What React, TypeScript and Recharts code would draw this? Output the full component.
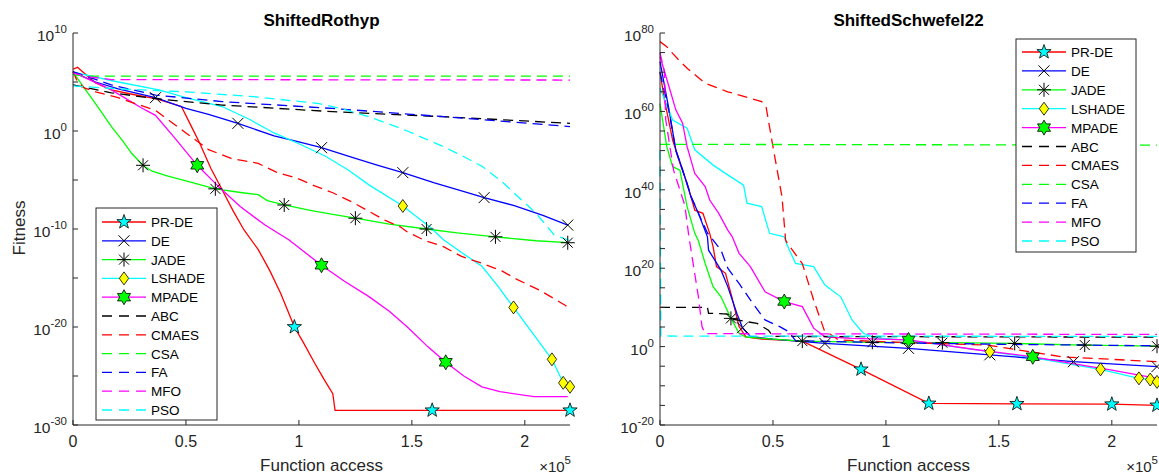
import React from "react";
import { LineChart, Line, XAxis, YAxis } from "recharts";

// points are [function access (x1e5), log10(fitness)]
type Pt = [number, number];

const algNames = ["PR-DE", "DE", "JADE", "LSHADE", "MPADE", "ABC", "CMAES", "CSA", "FA", "MFO", "PSO"];

// ---------- ShiftedRothyp ----------
const rothypPRDE: Pt[] = [[0, 6.3], [0.02, 6.5], [0.04, 6.1], [0.1, 4.9], [0.17, 4.2], [0.25, 3.8], [0.365, 3.3], [0.48, 2.5], [0.52, 0.65], [0.56, -1.2], [0.61, -3.8], [0.66, -6.0], [0.71, -8.2], [0.757, -10.1], [0.82, -12.1], [0.87, -14.2], [0.92, -16.6], [0.98, -20.0], [1.02, -21.6], [1.07, -23.7], [1.11, -25.3], [1.15, -26.8], [1.16, -28.5], [1.59, -28.5], [2.2, -28.5]];
const rothypDE: Pt[] = [[0, 6.0], [0.1, 5.0], [0.2, 4.3], [0.365, 3.4], [0.5, 2.3], [0.6, 1.7], [0.73, 0.78], [0.89, -0.5], [1.0, -1.1], [1.1, -1.7], [1.25, -2.8], [1.35, -3.5], [1.46, -4.25], [1.6, -5.3], [1.72, -6.1], [1.82, -6.8], [1.95, -7.6], [2.08, -8.6], [2.19, -9.6]];
const rothypJADE: Pt[] = [[0, 6.0], [0.04, 4.7], [0.087, 3.2], [0.13, 1.8], [0.17, 0.44], [0.22, -1.0], [0.26, -2.3], [0.31, -3.5], [0.35, -4.1], [0.42, -4.6], [0.5, -5.1], [0.63, -5.9], [0.75, -6.3], [0.82, -6.5], [0.86, -7.1], [0.935, -7.55], [1.05, -8.1], [1.15, -8.5], [1.25, -8.9], [1.4, -9.5], [1.565, -10.0], [1.7, -10.4], [1.87, -10.8], [2.05, -11.2], [2.19, -11.4]];
const rothypLSHADE: Pt[] = [[0, 6.0], [0.2, 5.0], [0.38, 4.2], [0.5, 3.4], [0.66, 2.5], [0.78, 1.2], [0.89, -0.2], [1.0, -1.3], [1.12, -2.6], [1.22, -4.0], [1.31, -5.5], [1.46, -7.65], [1.58, -9.8], [1.64, -11.1], [1.72, -12.4], [1.81, -13.8], [1.88, -15.8], [1.95, -18.0], [2.04, -20.8], [2.12, -23.3], [2.17, -25.7], [2.2, -26.1]];
const rothypMPADE: Pt[] = [[0, 6.0], [0.17, 4.2], [0.3, 2.4], [0.365, 1.6], [0.45, -0.7], [0.55, -3.5], [0.65, -5.8], [0.74, -7.7], [0.85, -9.6], [0.955, -11.1], [1.1, -13.7], [1.2, -15.3], [1.31, -16.9], [1.4, -18.4], [1.48, -20.0], [1.57, -22.0], [1.65, -23.6], [1.73, -25.0], [1.81, -26.1], [1.89, -26.6], [2.04, -27.1], [2.19, -27.1]];
const rothypABC: Pt[] = [[0, 4.7], [0.17, 3.9], [0.365, 3.3], [0.66, 2.65], [1.15, 1.97], [1.64, 1.46], [2.2, 0.78]];
const rothypCMAES: Pt[] = [[0, 6.1], [0.02, 5.0], [0.05, 4.4], [0.1, 4.0], [0.2, 3.4], [0.365, 2.1], [0.43, 1.0], [0.5, -0.2], [0.6, -1.9], [0.7, -2.8], [0.82, -3.3], [0.9, -4.2], [0.99, -4.8], [1.07, -5.6], [1.15, -6.3], [1.24, -7.3], [1.31, -8.2], [1.38, -9.1], [1.45, -9.8], [1.48, -10.3], [1.56, -11.2], [1.64, -11.8], [1.72, -12.8], [1.81, -13.5], [1.9, -14.3], [1.97, -15.2], [2.07, -16.3], [2.18, -17.8], [2.2, -18.2]];
const rothypCSA: Pt[] = [[0, 5.75], [0.05, 5.6], [2.2, 5.6]];
const rothypFA: Pt[] = [[0, 6.05], [0.17, 4.7], [0.365, 3.67], [0.66, 3.0], [1.15, 2.3], [1.64, 1.46], [2.2, 0.45]];
const rothypMFO: Pt[] = [[0, 5.9], [0.08, 5.5], [0.17, 5.25], [2.2, 5.2]];
const rothypPSO: Pt[] = [[0, 4.6], [0.2, 4.3], [0.5, 4.0], [0.8, 3.5], [1.09, 2.8], [1.2, 2.2], [1.31, 1.46], [1.4, 0.7], [1.48, 0.0], [1.56, -0.8], [1.64, -1.6], [1.72, -2.5], [1.81, -3.6], [1.9, -5.2], [1.97, -6.7], [2.05, -8.4], [2.13, -10.6], [2.2, -11.2]];

const rothypMarks: Record<string, number[]> = {
  "PR-DE": [0.98, 1.59, 2.2],
  DE: [0.365, 0.73, 1.1, 1.46, 1.82, 2.19],
  JADE: [0.31, 0.63, 0.935, 1.25, 1.565, 1.87, 2.19],
  LSHADE: [1.46, 1.95, 2.12, 2.17, 2.2],
  MPADE: [0.55, 1.1, 1.65],
};

// ---------- ShiftedSchwefel22 ----------
const schwPRDE: Pt[] = [[0, 70], [0.02, 62.9], [0.056, 52.7], [0.088, 46.8], [0.12, 41.7], [0.154, 34.8], [0.19, 34.0], [0.22, 28.9], [0.235, 25.5], [0.25, 20.4], [0.29, 18.7], [0.318, 12.7], [0.35, 5.1], [0.38, 2.5], [0.45, 1.9], [0.63, 1.4], [0.89, -5.8], [1.19, -14.5], [1.58, -14.6], [2.0, -14.7], [2.2, -15.0]];
const schwDE: Pt[] = [[0, 72.7], [0.04, 60.4], [0.07, 50.2], [0.1, 45.1], [0.137, 38.2], [0.17, 34.0], [0.21, 28.0], [0.215, 24.6], [0.27, 19.5], [0.3, 15.3], [0.34, 8.5], [0.365, 4.8], [0.4, 2.6], [0.5, 1.9], [0.73, 0.8], [1.1, -0.45], [1.46, -2.1], [1.83, -3.85], [2.2, -5.1]];
const schwJADE: Pt[] = [[0, 62], [0.03, 51], [0.056, 45.9], [0.088, 45], [0.12, 35.7], [0.154, 28.9], [0.17, 27], [0.2, 21.2], [0.235, 15.3], [0.27, 12.7], [0.314, 7.2], [0.35, 3.4], [0.38, 2.4], [0.63, 1.4], [0.94, 1.1], [1.25, 1.0], [1.57, 0.8], [1.88, 0.4], [2.2, 0.1]];
const schwLSHADE: Pt[] = [[0, 66], [0.02, 63], [0.056, 57.8], [0.12, 55.7], [0.154, 50.2], [0.235, 46.3], [0.3, 43.8], [0.37, 41.2], [0.385, 36.6], [0.45, 35.7], [0.485, 28.9], [0.55, 28], [0.56, 26.3], [0.6, 21.2], [0.68, 20.4], [0.73, 15.7], [0.8, 12.7], [0.85, 6.8], [0.9, 3.4], [0.95, 2.3], [1.1, 1.6], [1.46, -1.3], [1.65, -2.8], [1.95, -5.8], [2.12, -8.1], [2.17, -8.4], [2.2, -9.0]];
const schwMPADE: Pt[] = [[0, 74], [0.04, 66.3], [0.07, 60.4], [0.1, 57], [0.12, 51], [0.154, 44.2], [0.2, 40.8], [0.22, 37.4], [0.26, 34], [0.3, 29.7], [0.32, 28], [0.35, 23.8], [0.4, 20.4], [0.465, 14], [0.55, 11.5], [0.63, 10.2], [0.68, 4.7], [0.73, 2.5], [0.85, 2.1], [1.1, 1.7], [1.4, -0.8], [1.65, -2.6], [2.0, -6.0], [2.2, -8.1]];
const schwABC: Pt[] = [[0, 10], [0.21, 10], [0.215, 8.5], [0.3, 8.3], [0.32, 7.0], [0.43, 5.9], [0.48, 4.2], [0.5, 2.6], [2.2, 2.4]];
const schwCMAES: Pt[] = [[0, 77.8], [0.03, 76.5], [0.056, 74.8], [0.08, 73.3], [0.12, 71], [0.2, 67.2], [0.3, 65], [0.45, 62.5], [0.47, 61], [0.5, 51], [0.54, 38.2], [0.556, 27.2], [0.564, 26.3], [0.63, 21.2], [0.68, 11.9], [0.727, 4.2], [0.79, 1.7], [1.1, 1.0], [1.45, 0.4], [1.78, -2.6], [2.2, -3.85]];
const schwCSA: Pt[] = [[0, 51.6], [2.2, 51.4]];
const schwFA: Pt[] = [[0, 70], [0.04, 60], [0.07, 50], [0.1, 45], [0.14, 38], [0.17, 34], [0.21, 29], [0.27, 24.6], [0.3, 20], [0.35, 16.1], [0.4, 11.9], [0.465, 6.8], [0.53, 5.1], [0.57, 3.8], [0.6, 1.5], [1.0, 1.0], [1.5, 0.6], [2.2, 0.2]];
const schwMFO: Pt[] = [[0, 75], [0.02, 70], [0.025, 58], [0.06, 45], [0.11, 36], [0.128, 28], [0.15, 20], [0.17, 12.7], [0.186, 5.1], [0.2, 3.3], [2.2, 3.1]];
const schwPSO: Pt[] = [[0, 50], [0.004, 2.7], [2.2, 2.6]];

const schwMarks: Record<string, number[]> = {
  "PR-DE": [0.89, 1.19, 1.58, 2.0, 2.2],
  DE: [0.365, 0.73, 1.1, 1.46, 1.83, 2.2],
  JADE: [0.314, 0.63, 0.94, 1.25, 1.57, 1.88, 2.2],
  LSHADE: [1.46, 1.95, 2.12, 2.17, 2.2],
  MPADE: [0.55, 1.1, 1.65],
};

// ---------- ticks ----------
const bottomXTicks = [0, 0.5, 1, 1.5, 2];
const topXTicks = [0, 0.22, 0.44, 0.66, 0.88, 1.1, 1.32, 1.54, 1.76, 1.98, 2.2];
const rothypYTicks = [1e-30, 1e-25, 1e-20, 1e-15, 1e-10, 1e-5, 1, 1e5, 1e10];
const schwYTicks = [1e-20, 1e-15, 1e-10, 1e-5, 1, 1e5, 1e10, 1e15, 1e20, 1e25, 1e30, 1e35, 1e40, 1e45, 1e50, 1e55, 1e60, 1e65, 1e70, 1e75, 1e80];

type MarkerKind = "pentagram" | "x" | "asterisk" | "diamond" | "hexagram";
const DASH = "10 6";
const algStyle: Record<string, { color: string; dash?: string; marker?: MarkerKind }> = {
  "PR-DE": { color: "#ff0000", marker: "pentagram" },
  DE: { color: "#0000ff", marker: "x" },
  JADE: { color: "#00ff00", marker: "asterisk" },
  LSHADE: { color: "#00ffff", marker: "diamond" },
  MPADE: { color: "#ff00ff", marker: "hexagram" },
  ABC: { color: "#000000", dash: DASH },
  CMAES: { color: "#ff0000", dash: DASH },
  CSA: { color: "#00ff00", dash: DASH },
  FA: { color: "#0000ff", dash: DASH },
  MFO: { color: "#ff00ff", dash: DASH },
  PSO: { color: "#00ffff", dash: DASH },
};

const W = 1159;
const H = 475;
const PLOT_TOP = 33;
const PLOT_BOTTOM = 425;
const AXIS = "#262626";
const FONT = "Arial, 'Liberation Sans', Helvetica, sans-serif";
const TICK = 5;

function starPath(cx: number, cy: number, n: number, ro: number, ri: number) {
  let d = "";
  for (let i = 0; i < 2 * n; i++) {
    const r = i % 2 === 0 ? ro : ri;
    const a = -Math.PI / 2 + (i * Math.PI) / n;
    d += (i ? "L" : "M") + (cx + r * Math.cos(a)).toFixed(2) + "," + (cy + r * Math.sin(a)).toFixed(2);
  }
  return d + "Z";
}

function Marker({ kind, cx, cy }: { kind: MarkerKind; cx: number; cy: number }) {
  if (kind === "pentagram")
    return <path d={starPath(cx, cy, 5, 7.5, 3)} fill="#00ffff" stroke="#000" strokeWidth={0.8} />;
  if (kind === "hexagram")
    return <path d={starPath(cx, cy, 6, 7.5, 4.3)} fill="#00ff00" stroke="#000" strokeWidth={0.8} />;
  if (kind === "diamond")
    return <path d={`M${cx},${cy - 6.5}L${cx + 4.7},${cy}L${cx},${cy + 6.5}L${cx - 4.7},${cy}Z`} fill="#ffff00" stroke="#000" strokeWidth={0.8} />;
  if (kind === "x")
    return <path d={`M${cx - 5.5},${cy - 5.5}L${cx + 5.5},${cy + 5.5}M${cx - 5.5},${cy + 5.5}L${cx + 5.5},${cy - 5.5}`} stroke="#000" strokeWidth={1} />;
  return (
    <path
      d={`M${cx - 7},${cy}L${cx + 7},${cy}M${cx},${cy - 7}L${cx},${cy + 7}M${cx - 5},${cy - 5}L${cx + 5},${cy + 5}M${cx - 5},${cy + 5}L${cx + 5},${cy - 5}`}
      stroke="#000"
      strokeWidth={1}
    />
  );
}

function LeftTick(props: any) {
  const { x, y, payload, step } = props;
  const exp = Math.round(Math.log10(payload.value));
  return (
    <g>
      <line x1={x} x2={x + TICK} y1={y} y2={y} stroke={AXIS} />
      {exp % step === 0 && (
        <text x={x - 6} y={y + 8} textAnchor="end" fontFamily={FONT} fontSize={15.5} fill="#262626">
          10<tspan dy={-8} fontSize={11.5}>{exp}</tspan>
        </text>
      )}
    </g>
  );
}
function RightTick(props: any) {
  const { x, y } = props;
  return <line x1={x} x2={x - TICK} y1={y} y2={y} stroke={AXIS} />;
}
function BottomTick(props: any) {
  const { x, y, payload } = props;
  return (
    <g>
      <line x1={x} x2={x} y1={y} y2={y - TICK} stroke={AXIS} />
      <text x={x} y={y + 22} textAnchor="middle" fontFamily={FONT} fontSize={16} fill="#262626">
        {String(payload.value)}
      </text>
    </g>
  );
}
function TopTick(props: any) {
  const { x, y } = props;
  return <line x1={x} x2={x} y1={y} y2={y + TICK} stroke={AXIS} />;
}

type PanelProps = {
  left: number;
  width: number;
  plotLeft: number;
  plotRight: number;
  curves: Pt[][];
  marks: Record<string, number[]>;
  yDomain: [number, number];
  yTicks: number[];
  labelStep: number;
};

function Panel({ left, width, plotLeft, plotRight, curves, marks, yDomain, yTicks, labelStep }: PanelProps) {
  return (
    <div style={{ position: "absolute", left, top: 0 }}>
      <LineChart
        width={width}
        height={H}
        margin={{ top: PLOT_TOP, bottom: 0, left: plotLeft - left - 60, right: left + width - plotRight }}
      >
        <XAxis dataKey="x" type="number" domain={[0, 2.2]} ticks={bottomXTicks} interval={0} height={H - PLOT_BOTTOM}
          tickSize={0} tickMargin={0} tickLine={false} axisLine={{ stroke: AXIS }} tick={<BottomTick />} />
        <XAxis xAxisId="top" orientation="top" dataKey="x" type="number" domain={[0, 2.2]} allowDataOverflow ticks={topXTicks}
          interval={0} height={0} tickSize={0} tickMargin={0} tickLine={false} axisLine={{ stroke: AXIS }} tick={<TopTick />} />
        <YAxis type="number" scale="log" domain={yDomain} ticks={yTicks} interval={0} width={60}
          tickSize={0} tickMargin={0} tickLine={false} axisLine={{ stroke: AXIS }} tick={<LeftTick step={labelStep} />} />
        <YAxis yAxisId="right" orientation="right" type="number" scale="log" domain={yDomain} allowDataOverflow ticks={yTicks}
          interval={0} width={0} tickSize={0} tickMargin={0} tickLine={false} axisLine={{ stroke: AXIS }} tick={<RightTick />} />
        {algNames.map((name, i) => {
          const st = algStyle[name];
          const m = marks[name] || [];
          const data = curves[i].map(([x, d]) => ({ x, y: Math.pow(10, d) }));
          return (
            <Line
              key={name}
              data={data}
              dataKey="y"
              type="linear"
              stroke={st.color}
              strokeWidth={1.3}
              strokeDasharray={st.dash}
              isAnimationActive={false}
              activeDot={false}
              legendType="none"
              dot={(p: any) =>
                st.marker && m.includes(p.payload.x) ? (
                  <g key={`${name}-${p.index}`}><Marker kind={st.marker} cx={p.cx} cy={p.cy} /></g>
                ) : (
                  <g key={`${name}-${p.index}`} />
                )
              }
            />
          );
        })}
      </LineChart>
    </div>
  );
}

function LegendBox({ x, y, w, h, first, step }: { x: number; y: number; w: number; h: number; first: number; step: number }) {
  return (
    <g>
      <rect x={x} y={y} width={w} height={h} fill="#fff" stroke={AXIS} strokeWidth={1} />
      {algNames.map((name, i) => {
        const st = algStyle[name];
        const cy = y + first + i * step;
        return (
          <g key={name}>
            <line x1={x + 6} x2={x + 50} y1={cy} y2={cy} stroke={st.color} strokeWidth={1.3} strokeDasharray={st.dash ? "10 7" : undefined} />
            {st.marker && <Marker kind={st.marker} cx={x + 28} cy={cy} />}
            <text x={x + 55} y={cy + 5} fontFamily={FONT} fontSize={13.5} fill="#000">{name}</text>
          </g>
        );
      })}
    </g>
  );
}

export default function App() {
  return (
    <div style={{ position: "fixed", left: 0, top: 0, width: W, height: H, background: "#fff", fontFamily: FONT }}>
      <Panel left={0} width={580} plotLeft={73} plotRight={570}
        curves={[rothypPRDE, rothypDE, rothypJADE, rothypLSHADE, rothypMPADE, rothypABC, rothypCMAES, rothypCSA, rothypFA, rothypMFO, rothypPSO]}
        marks={rothypMarks} yDomain={[1e-30, 1e10]} yTicks={rothypYTicks} labelStep={10} />
      <Panel left={580} width={579} plotLeft={660} plotRight={1157}
        curves={[schwPRDE, schwDE, schwJADE, schwLSHADE, schwMPADE, schwABC, schwCMAES, schwCSA, schwFA, schwMFO, schwPSO]}
        marks={schwMarks} yDomain={[1e-20, 1e80]} yTicks={schwYTicks} labelStep={20} />
      <svg width={W} height={H} style={{ position: "absolute", left: 0, top: 0, pointerEvents: "none" }}>
        <text x={321.5} y={26} textAnchor="middle" fontWeight="bold" fontSize={17} fontFamily={FONT} fill="#000">ShiftedRothyp</text>
        <text x={908.5} y={26} textAnchor="middle" fontWeight="bold" fontSize={17} fontFamily={FONT} fill="#000">ShiftedSchwefel22</text>
        <text x={321.5} y={471} textAnchor="middle" fontSize={17} fontFamily={FONT} fill="#262626">Function access</text>
        <text x={908.5} y={471} textAnchor="middle" fontSize={17} fontFamily={FONT} fill="#262626">Function access</text>
        <text transform="translate(25,228) rotate(-90)" textAnchor="middle" fontSize={17} fontFamily={FONT} fill="#262626">Fitness</text>
        <text x={571} y={472} textAnchor="end" fontSize={15} fontFamily={FONT} fill="#262626">
          ×10<tspan dy={-8} fontSize={11.5}>5</tspan>
        </text>
        <text x={1158} y={472} textAnchor="end" fontSize={15} fontFamily={FONT} fill="#262626">
          ×10<tspan dy={-8} fontSize={11.5}>5</tspan>
        </text>
        <LegendBox x={96} y={208} w={121} h={212} first={14} step={18.8} />
        <LegendBox x={1016} y={39} w={120} h={213} first={13} step={18.9} />
      </svg>
    </div>
  );
}
